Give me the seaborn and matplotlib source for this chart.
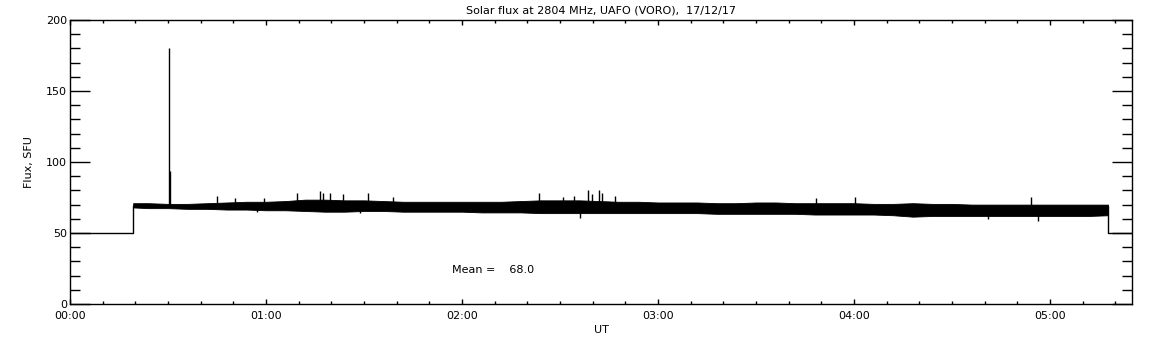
import numpy as np
import pandas as pd
import seaborn as sns
import matplotlib
matplotlib.use("Agg")
import matplotlib.pyplot as plt
from matplotlib.ticker import MultipleLocator

# Data (time in hours UT, flux in SFU)
step_time = [0.0, 0.322, 5.296, 5.418]
step_flux = [50, 69, 50, 50]

band_time = [0.322, 0.4, 0.5, 0.6, 0.7, 0.8, 0.9, 1.0, 1.1, 1.2, 1.3, 1.4, 1.5,
             1.6, 1.7, 1.8, 1.9, 2.0, 2.1, 2.2, 2.3, 2.4, 2.5, 2.6, 2.7, 2.8,
             2.9, 3.0, 3.1, 3.2, 3.3, 3.4, 3.5, 3.6, 3.7, 3.8, 3.9, 4.0, 4.1,
             4.2, 4.3, 4.4, 4.5, 4.6, 4.7, 4.8, 4.9, 5.0, 5.1, 5.2, 5.296]
band_hi = [71, 71, 70.5, 70.5, 71, 71.5, 72, 72, 72.5, 73.5, 73.5, 73, 73,
           72.5, 72, 72, 72, 72, 72, 72, 72.5, 73, 73, 73, 72.5, 72,
           72, 71.5, 71.5, 71.5, 71, 71, 71.5, 71.5, 71, 71, 71, 71, 70.5,
           70.5, 71, 70.5, 70.5, 70, 70, 70, 70, 70, 70, 70, 70]
band_lo = [68, 67.5, 67.5, 67, 67, 66.5, 66.5, 66, 66, 65.5, 65, 65, 65.5,
           65.5, 65, 65, 65, 65, 64.5, 64.5, 64.5, 64, 64, 64, 64, 64,
           64, 64, 64, 64, 63.5, 63.5, 63.5, 63.5, 63.5, 63, 63, 63, 63,
           62.5, 61.5, 62, 62, 62, 62, 62, 62, 62, 62, 62, 62.5]

spike_up_time = [0.503, 0.508, 0.75, 0.842, 0.99, 1.158, 1.276, 1.291, 1.327,
                 1.393, 1.52, 1.648, 2.393, 2.515, 2.571, 2.643, 2.663, 2.699,
                 2.714, 2.781, 3.806, 4.005, 4.903]
spike_up_flux = [180, 94, 76, 74.6, 74.6, 78, 79.6, 78.4, 78, 77.5, 78.4, 75.6,
                 78.4, 75.4, 76, 80.3, 77.5, 80.3, 78, 76, 74.4, 75.4, 75.1]
spike_dn_time = [0.954, 1.48, 2.602, 4.684, 4.939]
spike_dn_flux = [64.8, 63.9, 60.3, 59.9, 58.7]

mean_flux = 68.0
x_ticks = [0, 1, 2, 3, 4, 5]
x_labels = ["00:00", "01:00", "02:00", "03:00", "04:00", "05:00"]
title = "Solar flux at 2804 MHz, UAFO (VORO),  17/12/17"

sns.set_style("ticks")
plt.rcParams["font.family"] = ["DejaVu Sans"]
plt.rcParams["text.color"] = "black"
plt.rcParams["axes.labelcolor"] = "black"

fig = plt.figure(figsize=(11.52, 3.45), dpi=100)
ax = fig.add_axes([70 / 1152, 1 - 304 / 345, 1062 / 1152, 284 / 345])

steps = pd.DataFrame({"t": step_time, "flux": step_flux})
sns.lineplot(data=steps, x="t", y="flux", drawstyle="steps-post",
             color="black", linewidth=1, ax=ax)

ax.fill_between(band_time, band_lo, band_hi, color="black", linewidth=0.6)
mid = np.interp(spike_up_time, band_time, band_hi)
ax.vlines(spike_up_time, mid - 1, spike_up_flux, color="black", linewidth=1)
mid = np.interp(spike_dn_time, band_time, band_lo)
ax.vlines(spike_dn_time, spike_dn_flux, mid + 1, color="black", linewidth=1)

ax.set_xlim(0, 5.418)
ax.set_ylim(0, 200)
ax.set_xticks(x_ticks)
ax.set_xticklabels(x_labels)
ax.xaxis.set_minor_locator(MultipleLocator(1 / 6))
ax.yaxis.set_major_locator(MultipleLocator(50))
ax.yaxis.set_minor_locator(MultipleLocator(10))

ax.tick_params(axis="both", which="both", direction="in", top=True, right=True,
               colors="black", labelcolor="black", labelsize=8, width=1)
ax.tick_params(axis="x", which="major", length=3.6, pad=5)
ax.tick_params(axis="x", which="minor", length=1.9)
ax.tick_params(axis="y", which="major", length=14.4, pad=2)
ax.tick_params(axis="y", which="minor", length=7.2)
for s in ax.spines.values():
    s.set_linewidth(1)
    s.set_color("black")

ax.set_xlabel("UT", fontsize=8, labelpad=3, color="black")
ax.set_ylabel("Flux, SFU", fontsize=8, labelpad=9, color="black")
ax.set_title(title, fontsize=8, pad=5, color="black")
ax.text(1.95, 24, "Mean =    %.1f" % mean_flux, fontsize=8, va="center",
        color="black")

fig.savefig("out.png", dpi=100)
